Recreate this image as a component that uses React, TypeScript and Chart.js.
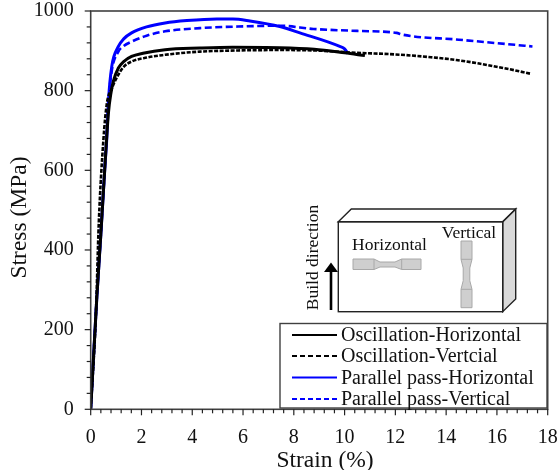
import React, { useEffect, useRef } from "react";
import { Chart, registerables } from "chart.js";

Chart.register(...registerables);

const seriesLabels = [
  "Oscillation-Horizontal",
  "Oscillation-Vertcial",
  "Parallel pass-Horizontal",
  "Parallel pass-Vertical",
];

const oscillationHorizontal = [
  [0, 0], [0.236, 275], [0.4, 440], [0.56, 610], [0.7, 745], [0.8, 795], [0.89, 823], [1.09, 857], [1.3, 873], [1.61, 886],
  [2.06, 894], [2.93, 903], [4.3, 907], [5.6, 909], [7.45, 908], [8.8, 904], [10, 895], [10.8, 888],
];
const oscillationVertical = [
  [0, 0], [0.2, 230], [0.32, 470], [0.5, 676], [0.63, 765], [0.83, 805], [1.09, 840], [1.3, 860], [1.61, 873], [2.2, 883],
  [2.93, 890], [3.5, 894], [4.3, 898], [5.8, 901], [7.45, 902], [8.77, 901], [10.5, 895], [12, 891], [13.4, 884],
  [14.4, 877], [15.3, 868], [16.4, 855], [17.36, 842],
];
const parallelHorizontal = [
  [0, 0], [0.236, 275], [0.4, 440], [0.56, 610], [0.63, 676], [0.7, 775], [0.83, 861], [1.09, 911], [1.3, 930], [1.61, 945],
  [2.2, 960], [2.93, 970], [3.79, 976], [4.97, 980], [5.6, 980], [6.27, 975], [7.45, 961], [8.24, 945],
  [9.81, 911], [10.0, 905], [10.13, 893],
];
const parallelVertical = [
  [0, 0], [0.236, 275], [0.4, 440], [0.56, 610], [0.7, 770], [0.83, 850], [1.09, 898], [1.3, 912], [1.61, 923], [2.2, 938],
  [2.93, 949], [4.3, 957], [5.8, 961], [7.45, 963], [8.77, 955], [10.5, 950], [12.05, 945], [12.25, 941],
  [14.5, 928], [17.4, 911],
];

const xTickValues = [0, 2, 4, 6, 8, 10, 12, 14, 16, 18];
const yTickValues = [0, 200, 400, 600, 800, 1000];
const xMinorStep = 0.4;
const yMinorStep = 40;

const SERIF = '"Liberation Serif", "Times New Roman", serif';
const FRAME = "#404040";
const BLUE = "#0000ff";

const toPoints = (a: number[][]) => a.map(([x, y]) => ({ x, y }));

const decor = {
  id: "decor",
  afterDatasetsDraw(chart: any) {
    const { ctx, chartArea: a, scales } = chart;
    const xs = scales.x;
    const ys = scales.y;
    ctx.save();
    // frame
    ctx.strokeStyle = FRAME;
    ctx.lineWidth = 1.6;
    ctx.strokeRect(a.left, a.top, a.right - a.left, a.bottom - a.top);

    // ticks
    ctx.strokeStyle = "#222";
    ctx.lineWidth = 1.2;
    for (let i = 0; i <= 45; i++) {
      const v = i * xMinorStep;
      const p = xs.getPixelForValue(v);
      ctx.beginPath();
      ctx.moveTo(p, a.bottom);
      ctx.lineTo(p, a.bottom + (i % 5 === 0 ? 6 : 4));
      ctx.stroke();
    }
    for (let i = 0; i <= 25; i++) {
      const v = i * yMinorStep;
      const p = ys.getPixelForValue(v);
      ctx.beginPath();
      ctx.moveTo(a.left, p);
      ctx.lineTo(a.left - (i % 5 === 0 ? 6 : 4), p);
      ctx.stroke();
    }

    // axis titles
    ctx.fillStyle = "#111";
    ctx.textAlign = "center";
    ctx.textBaseline = "middle";
    ctx.font = `23.5px ${SERIF}`;
    ctx.fillText("Strain (%)", 325, 461);
    ctx.save();
    ctx.translate(19.5, 217.5);
    ctx.rotate(-Math.PI / 2);
    ctx.fillText("Stress (MPa)", 0, 0);
    ctx.restore();

    // inset block
    ctx.strokeStyle = "#222";
    ctx.lineWidth = 1.4;
    ctx.fillStyle = "#d9d9d9";
    ctx.beginPath();
    ctx.moveTo(502.7, 221.7);
    ctx.lineTo(515.7, 209);
    ctx.lineTo(515.7, 299);
    ctx.lineTo(502.7, 311.7);
    ctx.closePath();
    ctx.fill();
    ctx.stroke();
    ctx.beginPath();
    ctx.moveTo(338.3, 221.7);
    ctx.lineTo(351.3, 209);
    ctx.lineTo(515.7, 209);
    ctx.lineTo(502.7, 221.7);
    ctx.closePath();
    ctx.stroke();
    ctx.strokeRect(338.3, 221.7, 164.4, 90);

    // specimens
    ctx.fillStyle = "#cfcfcf";
    ctx.strokeStyle = "#a8a8a8";
    ctx.lineWidth = 1;
    ctx.beginPath();
    ctx.moveTo(353, 259);
    ctx.lineTo(374, 259);
    ctx.lineTo(380, 262);
    ctx.lineTo(395, 262);
    ctx.lineTo(401.7, 259);
    ctx.lineTo(421, 259);
    ctx.lineTo(421, 269.5);
    ctx.lineTo(401.7, 269.5);
    ctx.lineTo(395, 267);
    ctx.lineTo(380, 267);
    ctx.lineTo(374, 269.5);
    ctx.lineTo(353, 269.5);
    ctx.closePath();
    ctx.moveTo(374, 259);
    ctx.lineTo(374, 269.5);
    ctx.moveTo(401.7, 259);
    ctx.lineTo(401.7, 269.5);
    ctx.fill();
    ctx.stroke();
    ctx.beginPath();
    ctx.moveTo(461, 241);
    ctx.lineTo(472, 241);
    ctx.lineTo(472, 259.3);
    ctx.lineTo(469.8, 268);
    ctx.lineTo(469.8, 280.7);
    ctx.lineTo(472, 289.3);
    ctx.lineTo(472, 307.7);
    ctx.lineTo(461, 307.7);
    ctx.lineTo(461, 289.3);
    ctx.lineTo(463.2, 280.7);
    ctx.lineTo(463.2, 268);
    ctx.lineTo(461, 259.3);
    ctx.closePath();
    ctx.moveTo(461, 259.3);
    ctx.lineTo(472, 259.3);
    ctx.moveTo(461, 289.3);
    ctx.lineTo(472, 289.3);
    ctx.fill();
    ctx.stroke();

    // inset labels
    ctx.fillStyle = "#111";
    ctx.font = `17.5px ${SERIF}`;
    ctx.fillText("Horizontal", 389.5, 245);
    ctx.fillText("Vertical", 469, 233);
    ctx.save();
    ctx.translate(313, 257.5);
    ctx.rotate(-Math.PI / 2);
    ctx.font = `17.5px ${SERIF}`;
    ctx.fillText("Build direction", 0, 0);
    ctx.restore();

    // arrow
    ctx.strokeStyle = "#000";
    ctx.fillStyle = "#000";
    ctx.lineWidth = 2.6;
    ctx.beginPath();
    ctx.moveTo(331, 310);
    ctx.lineTo(331, 270);
    ctx.stroke();
    ctx.beginPath();
    ctx.moveTo(331, 262.5);
    ctx.lineTo(338, 272);
    ctx.lineTo(324, 272);
    ctx.closePath();
    ctx.fill();

    // legend
    ctx.fillStyle = "#fff";
    ctx.strokeStyle = FRAME;
    ctx.lineWidth = 1.4;
    ctx.fillRect(280, 323.5, 267, 84.5);
    ctx.strokeRect(280, 323.5, 267, 84.5);
    ctx.textAlign = "left";
    ctx.font = `20px ${SERIF}`;
    const rows = [335, 356, 377.5, 399];
    chart.data.datasets.forEach((ds: any, i: number) => {
      ctx.strokeStyle = ds.borderColor;
      ctx.lineWidth = 2;
      ctx.setLineDash(ds.borderDash && ds.borderDash.length ? [5, 3] : []);
      ctx.beginPath();
      ctx.moveTo(292, rows[i]);
      ctx.lineTo(337, rows[i]);
      ctx.stroke();
      ctx.setLineDash([]);
      ctx.fillStyle = "#111";
      ctx.fillText(ds.label, 341, rows[i] + 1);
    });
    ctx.restore();
  },
};

export default function App() {
  const ref = useRef<HTMLCanvasElement | null>(null);
  useEffect(() => {
    document.body.style.margin = "0";
    const chart = new Chart(ref.current as HTMLCanvasElement, {
      type: "line",
      data: {
        datasets: [
          { label: seriesLabels[0], data: toPoints(oscillationHorizontal), borderColor: "#000000", borderWidth: 3, borderDash: [] },
          { label: seriesLabels[1], data: toPoints(oscillationVertical), borderColor: "#000000", borderWidth: 2.6, borderDash: [4, 1.5] },
          { label: seriesLabels[2], data: toPoints(parallelHorizontal), borderColor: BLUE, borderWidth: 3, borderDash: [] },
          { label: seriesLabels[3], data: toPoints(parallelVertical), borderColor: BLUE, borderWidth: 2.6, borderDash: [7, 3.5] },
        ],
      },
      options: {
        responsive: false,
        animation: false,
        layout: { padding: { left: 0, right: 12.3, top: 11, bottom: 0 } },
        elements: { point: { radius: 0 }, line: { cubicInterpolationMode: "monotone" } },
        plugins: { legend: { display: false }, tooltip: { enabled: false } },
        scales: {
          x: {
            type: "linear",
            min: 0,
            max: 18,
            afterFit: (s: any) => { s.height = 60.7; s.paddingLeft = 0; s.paddingRight = 0; },
            afterBuildTicks: (s: any) => { s.ticks = xTickValues.map((value) => ({ value })); },
            grid: { display: false },
            border: { display: false },
            ticks: { color: "#111", font: { family: SERIF, size: 20 }, padding: 8, maxRotation: 0, autoSkip: false, callback: (v: any) => String(v) },
          },
          y: {
            type: "linear",
            min: 0,
            max: 1000,
            afterFit: (s: any) => { s.width = 90.7; s.paddingTop = 0; s.paddingBottom = 0; },
            afterBuildTicks: (s: any) => { s.ticks = yTickValues.map((value) => ({ value })); },
            grid: { display: false },
            border: { display: false },
            ticks: { color: "#111", font: { family: SERIF, size: 20 }, padding: 9, autoSkip: false, callback: (v: any) => String(v) },
          },
        },
      },
      plugins: [decor],
    } as any);
    return () => chart.destroy();
  }, []);
  return (
    <div style={{ width: 560, height: 470 }}>
      <canvas ref={ref} width={560} height={470} style={{ display: "block" }} />
    </div>
  );
}
